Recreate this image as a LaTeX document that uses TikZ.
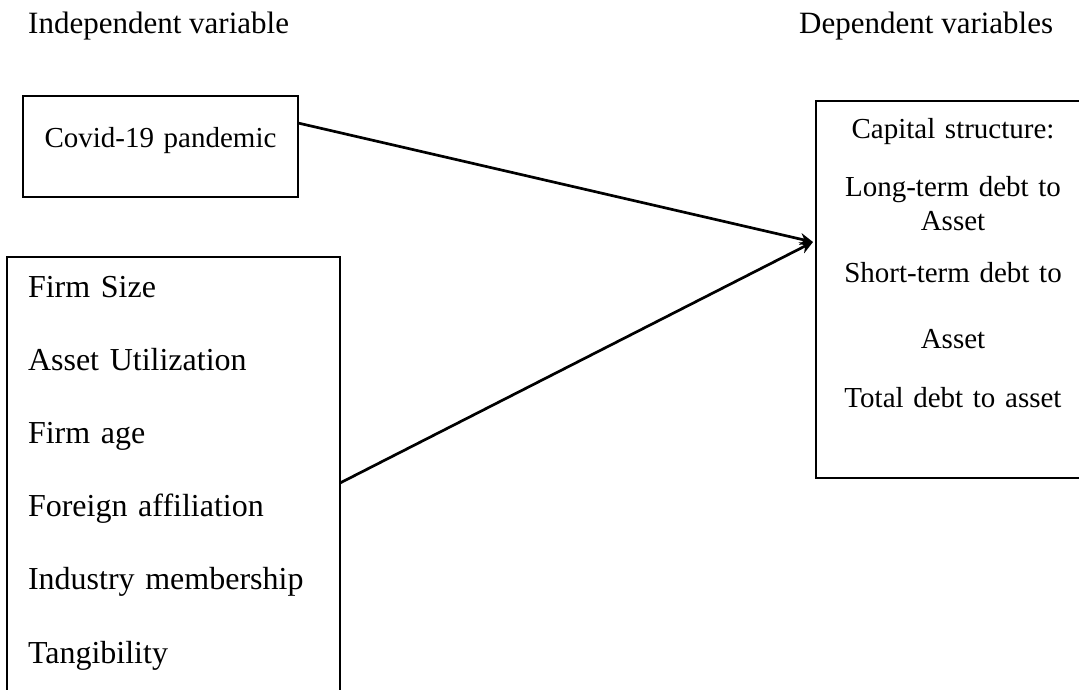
\documentclass[tikz,border=0pt]{standalone}
\usepackage{fontspec}
\setmainfont{Liberation Serif}
\usetikzlibrary{arrows.meta,positioning,calc}

\begin{document}
\begin{tikzpicture}[
  x=1pt, y=-1pt,
  hdr/.style={anchor=base west, inner sep=0pt, font=\fontsize{31}{36}\selectfont},
  varbox/.style={
    rectangle, draw=black, line width=2.9pt, anchor=north west, outer sep=0pt,
    inner xsep=0pt, align=center, font=\fontsize{29}{34}\selectfont
  },
  ctrlbox/.style={
    rectangle, draw=black, line width=2.9pt, anchor=north west, outer sep=0pt,
    inner xsep=21pt, inner ysep=18pt, align=left,
    font=\fontsize{32}{73.2}\selectfont
  },
  arr/.style={-{Stealth[length=13pt,width=12pt]}, line width=2.7pt, black}
]
\useasboundingbox (0,0) rectangle (1079,689);
\clip (0,0) rectangle (1079,689);

% ---- Headings ----
\node[hdr] (indep) at (28,33)  {Independent variable};
\node[hdr] (dep)   at (799,33) {Dependent variables};

% ---- Boxes ----
\node[varbox, text width=275pt, text height=20pt, text depth=19pt, inner ysep=31pt]
  (covid) at (23,96) {Covid-19 pandemic};

\node[ctrlbox, text width=291pt, text height=22pt, text depth=406pt]
  (ctrl) at (7,257) {Firm Size\\ Asset Utilization\\ Firm age\\ Foreign affiliation\\
  Industry membership\\ Tangibility};

\node[varbox, text width=274pt, text height=20pt, text depth=323pt, inner ysep=17pt]
  (cap) at (816,101) {Capital structure:\\[24pt] Long-term debt to\\ Asset\\[18pt]
  Short-term debt to\\[32pt] Asset\\[25pt] Total debt to asset};

% ---- Arrows ----
\coordinate (hit) at (813,242);
\draw[arr] ([yshift=23.5pt]covid.east) -- (hit);
\draw[arr] ([yshift=6pt]ctrl.east)     -- (hit);

\end{tikzpicture}
\end{document}
